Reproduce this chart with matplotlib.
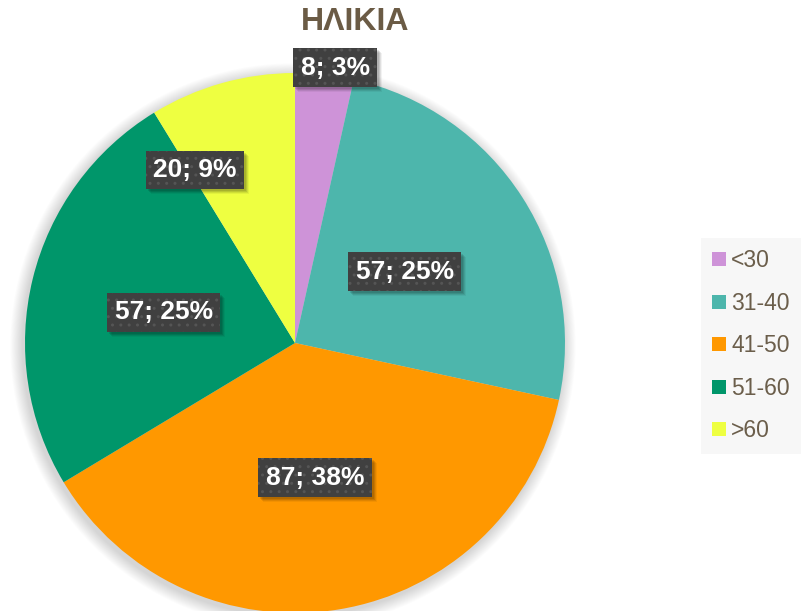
import matplotlib
matplotlib.use("Agg")
import matplotlib.pyplot as plt
from matplotlib.patches import Circle, Patch, Rectangle
import numpy as np

categories = ["<30", "31-40", "41-50", "51-60", ">60"]
values = [8, 57, 87, 57, 20]
percent_labels = ["3%", "25%", "38%", "25%", "9%"]
colors = ["#CE93D8", "#4DB6AC", "#FF9800", "#00966A", "#EEFF41"]
title = "ΗΛΙΚΙΑ"

W, H = 807, 611
fig = plt.figure(figsize=(W / 100, H / 100), dpi=100)
ax = fig.add_axes([0, 0, 1, 1])

cx, cy, r = 295, H - 343, 270

# soft shadow
for i in range(14):
    ax.add_patch(Circle((cx - 2, cy - 3), r + 1 + i * 0.9, color="black",
                        alpha=0.012, lw=0, zorder=1))

wedges, _ = ax.pie(values, colors=colors, startangle=90, counterclock=False,
                   center=(cx, cy), radius=r, frame=True,
                   wedgeprops=dict(linewidth=0, zorder=2))
ax.set_xlim(0, W)
ax.set_ylim(0, H)
ax.set_aspect("equal")
ax.axis("off")

# label placement (radius fraction, angle in degrees) as placed in the original
label_pos = [(1.03, 81.7), (0.485, 33.0), (0.505, -81.6), (0.50, 166.8), (0.74, 120.0)]
labels = []
for i, v in enumerate(values):
    rr, ang = label_pos[i]
    x = cx + rr * r * np.cos(np.radians(ang))
    y = cy + rr * r * np.sin(np.radians(ang))
    s = f"{v}; {percent_labels[i]}"
    t = ax.text(x, y, s, color="white", zorder=5, ha="center", va="center",
                fontsize=19, fontweight="bold", family="Liberation Sans",
                bbox=dict(boxstyle="square,pad=0.28", fc="#404040",
                          ec="#555555", lw=0, hatch=".."))
    labels.append(t)

fig.canvas.draw()
renderer = fig.canvas.get_renderer()
inv = ax.transData.inverted()
for t in labels:
    bb = t.get_bbox_patch().get_window_extent(renderer)
    (x0, y0), (x1, y1) = inv.transform([(bb.x0, bb.y0), (bb.x1, bb.y1)])
    for dx, a in [(2, 0.10), (3, 0.10), (4, 0.08), (5, 0.05)]:
        ax.add_patch(Rectangle((x0 + dx, y0 - dx), x1 - x0, y1 - y0,
                               fc="black", alpha=a, lw=0, zorder=4))

fig.text(355 / W, 1 - 22 / H, title, ha="center", va="center", fontsize=23,
         fontweight="bold", color="#6B5B45", family="Liberation Sans")

handles = [Patch(facecolor=c, edgecolor="none") for c in colors]
leg = fig.legend(handles, categories, loc="upper left",
                 bbox_to_anchor=(701 / W, 1 - 238 / H), frameon=True,
                 fancybox=False, facecolor="#F7F7F7", edgecolor="none",
                 framealpha=1, handlelength=0.57, handleheight=0.57,
                 handletextpad=0.25, labelspacing=0.85, borderpad=0.5,
                 borderaxespad=0,
                 prop=dict(family="Liberation Sans", size=16.5))
for txt in leg.get_texts():
    txt.set_color("#6B5E4B")

fig.savefig("out.png", dpi=100)
